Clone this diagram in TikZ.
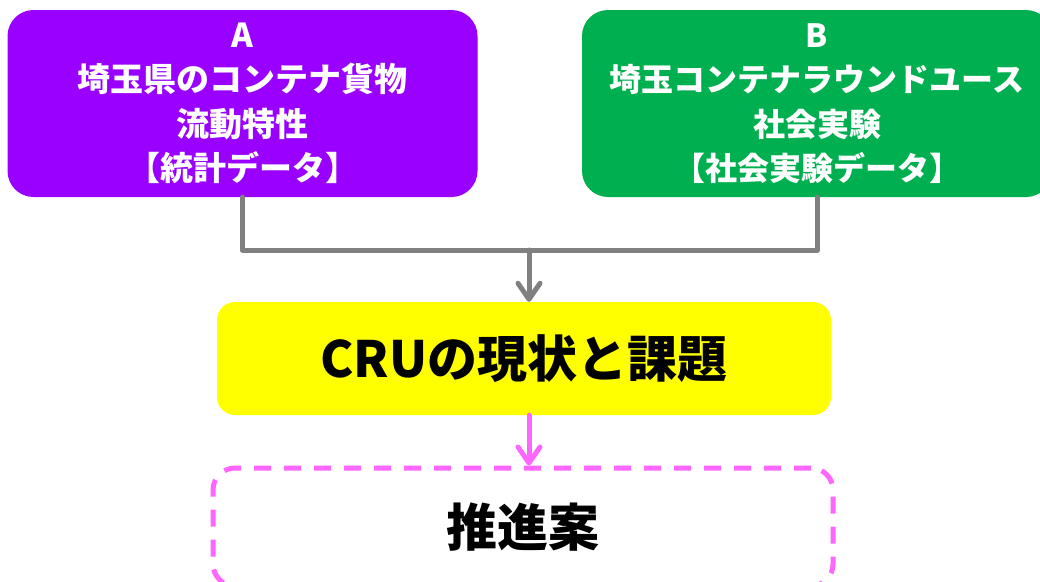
\documentclass[tikz,border=0pt]{standalone}
\usepackage{fontspec}
\newfontfamily\jp{Noto Sans CJK JP}
\usetikzlibrary{arrows.meta}
\definecolor{cpurple}{HTML}{9900FF}
\definecolor{cgreen}{HTML}{00B050}
\definecolor{cyellow}{HTML}{FFFF00}
\definecolor{cpink}{HTML}{FF66FF}
\definecolor{cgray}{HTML}{808080}
\tikzset{
  srcbox/.style={rectangle, rounded corners=26pt, minimum width=470pt, minimum height=187pt,
    text=white, align=center, font=\jp\bfseries\fontsize{33}{44.5}\selectfont, inner sep=0pt},
  midbox/.style={rectangle, rounded corners=18pt, fill=cyellow, minimum width=614pt, minimum height=113pt,
    font=\jp\bfseries\fontsize{50}{54}\selectfont, inner sep=0pt},
  outbox/.style={rectangle, rounded corners=22pt, draw=cpink, line width=5pt, dash pattern=on 17pt off 13pt,
    minimum width=620pt, minimum height=118pt, font=\jp\bfseries\fontsize{51}{55}\selectfont, inner sep=0pt},
  grayline/.style={draw=cgray, line width=5pt, line join=round, line cap=round},
  tip/.style={-{Straight Barb[length=16pt,width=22pt,round]}}
}
\begin{document}
\begin{tikzpicture}[x=1pt,y=-1pt]
\useasboundingbox (0,0) rectangle (1040,581);
\clip (0,0) rectangle (1040,581);
\node[srcbox, fill=cpurple] (A) at (242.5,103.5) {A\\埼玉県のコンテナ貨物\\流動特性\\【統計データ】};
\node[srcbox, fill=cgreen, font=\jp\bfseries\fontsize{32}{44.5}\selectfont] (B) at (817,103.5) {B\\埼玉コンテナラウンドユース\\社会実験\\【社会実験データ】};
\node[midbox] (C) at (524,358.5) {CRUの現状と課題};
\node[outbox] (D) at (523,527) {推進案};
\coordinate (J) at (529,250);
\draw[grayline] (A.south) |- (J) -| (B.south);
\draw[grayline, tip] (J) -- (J |- C.north);
\draw[draw=cpink, line width=5pt, line cap=round, tip] (J |- C.south) -- (J |- D.north);
\end{tikzpicture}
\end{document}
